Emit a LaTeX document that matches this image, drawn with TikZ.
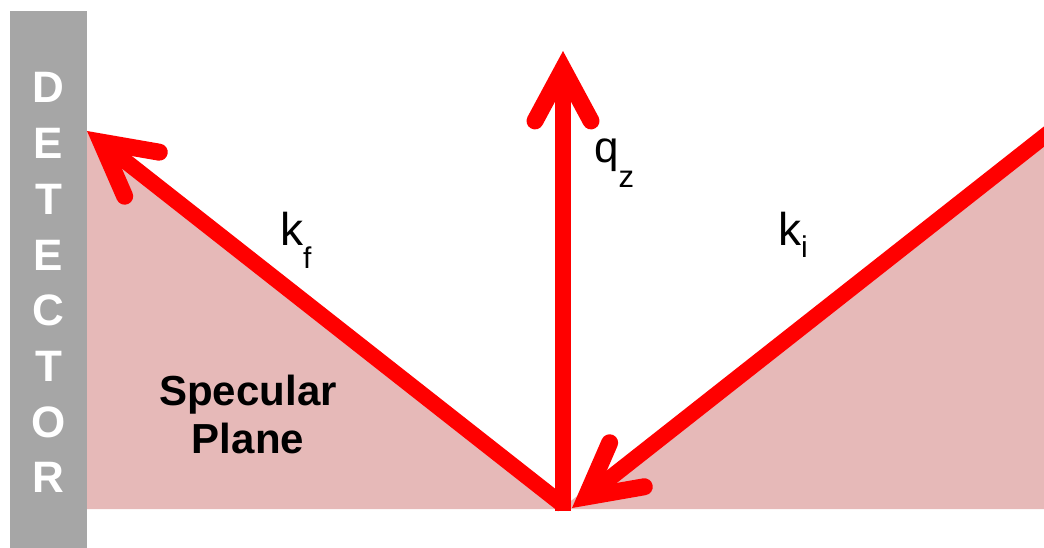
\documentclass[tikz,border=0pt]{standalone}
\usepackage{fontspec}
\setmainfont{Liberation Sans}
\usetikzlibrary{arrows.meta}
\definecolor{detgray}{RGB}{166,166,166}
\definecolor{planepink}{RGB}{230,185,184}
\definecolor{beamred}{RGB}{255,0,0}

\begin{document}
\begin{tikzpicture}[x=1pt, y=-1pt,
    beam/.style={draw=beamred, line width=16pt,
      -{Straight Barb[length=52pt, width=56pt, line width=17pt,
        line cap=round, line join=miter]}},
    letter/.style={anchor=base, inner sep=0pt, text=white,
      font=\fontsize{44}{44}\selectfont\bfseries},
    vec/.style={anchor=base west, inner sep=0pt,
      font=\fontsize{46}{46}\selectfont}]
  \clip (0,0) rectangle (1044,548);

  % specular plane
  \fill[planepink] (87,509) -- (87,131) -- (563,507) -- (1044,137)
    -- (1044,509) -- cycle;

  % detector bar
  \fill[detgray] (10,11) rectangle (87,548);
  \foreach \ch [count=\n from 0] in {D,E,T,E,C,T,O,R}{
    \node[letter] (det\n) at (48.5,{103+\n*55.7}) {\ch};
  }

  % beam end points
  \coordinate (apex)  at (563,511);
  \coordinate (kfout) at (563,505);
  \coordinate (qztip) at (563,51);
  \coordinate (kftip) at (87,131);
  \coordinate (kiin)  at (1060,124);
  \coordinate (kitip) at (572,508);

  \draw[beam] (kfout) -- (kftip);
  \draw[beam] (kiin) -- (kitip);
  \draw[beam] (apex) -- (qztip);

  % labels
  \node[vec] (kf) at (280,245)
    {k\raisebox{-23pt}{\fontsize{30}{30}\selectfont f}};
  \node[vec] (ki) at (778,245)
    {k\raisebox{-13pt}{\fontsize{30}{30}\selectfont i}};
  \node[vec, font=\fontsize{44}{44}\selectfont] (qz) at (594,163)
    {q\raisebox{-25pt}{\fontsize{31}{31}\selectfont z}};
  \node[align=center, anchor=base, inner sep=0pt,
    font=\fontsize{42}{48}\selectfont\bfseries] (spec) at (248,453)
    {Specular\\Plane};
\end{tikzpicture}
\end{document}
